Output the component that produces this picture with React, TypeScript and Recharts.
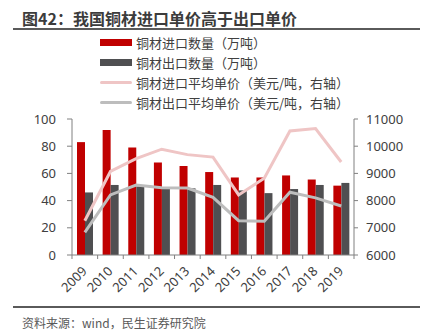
import { ComposedChart, Bar, Line, XAxis, YAxis } from 'recharts';

const years = ['2009', '2010', '2011', '2012', '2013', '2014', '2015', '2016', '2017', '2018', '2019'];
const importQty = [83, 92, 79, 68, 65.5, 61, 57, 57, 58.5, 55.5, 51];
const exportQty = [46, 51.5, 50.5, 49, 49, 51.5, 47.5, 45.5, 48.5, 51.5, 53];
const importPrice = [7260, 9070, 9540, 9890, 9690, 9600, 8210, 8820, 10560, 10650, 9420];
const exportPrice = [6830, 8210, 8570, 8470, 8460, 8120, 7260, 7240, 8310, 8100, 7800];
const leftTicks = [0, 20, 40, 60, 80, 100];
const rightTicks = [6000, 7000, 8000, 9000, 10000, 11000];

const data = years.map((y, i) => ({
  year: y,
  importQty: importQty[i],
  exportQty: exportQty[i],
  importPrice: importPrice[i],
  exportPrice: exportPrice[i],
}));

const SERIES = [
  { key: 'importQty',   label: '铜材进口数量（万吨）',             color: '#C00000', kind: 'bar' },
  { key: 'exportQty',   label: '铜材出口数量（万吨）',             color: '#4F4F51', kind: 'bar' },
  { key: 'importPrice', label: '铜材进口平均单价（美元/吨，右轴）', color: '#EFC5C5', kind: 'line' },
  { key: 'exportPrice', label: '铜材出口平均单价（美元/吨，右轴）', color: '#BDBDBD', kind: 'line' },
] as const;

const CJK = '"Noto Sans CJK SC", "Noto Sans", sans-serif';
const NUM = '"Noto Sans", sans-serif';
const AXIS = '#808080';
const TXT = '#404040';
const HALF_BAND = 12.82;

function YearTick(props: any) {
  const { x, y, payload, index } = props;
  const last = index === years.length - 1;
  return (
    <g>
      <line x1={x - HALF_BAND} x2={x - HALF_BAND} y1={y} y2={y + 4} stroke={AXIS} />
      {last && <line x1={x + HALF_BAND} x2={x + HALF_BAND} y1={y} y2={y + 4} stroke={AXIS} />}
      <text
        x={x + 3}
        y={y + 17}
        transform={`rotate(-45, ${x + 3}, ${y + 17})`}
        textAnchor="end"
        fontSize={13}
        fontFamily={NUM}
        fill={TXT}
      >
        {payload.value}
      </text>
    </g>
  );
}

export default function App() {
  return (
    <div style={{ position: 'absolute', left: 0, top: 0, width: 429, height: 336, background: '#fff', fontFamily: CJK }}>
      {/* 标题 */}
      <div style={{ position: 'absolute', left: 22, top: 8, fontSize: 16, fontWeight: 700, color: '#3c3c3c', lineHeight: '20px' }}>
        图42：我国铜材进口单价高于出口单价
      </div>
      <div style={{ position: 'absolute', left: 13, top: 28, width: 407, height: 2, background: '#5a5a5a' }} />

      {/* 图例 */}
      <div style={{ position: 'absolute', left: 100, top: 32 }}>
        {SERIES.map(s => (
          <div key={s.key} style={{ display: 'flex', alignItems: 'center', height: 20 }}>
            <span
              style={{
                display: 'inline-block',
                width: 32,
                height: s.kind === 'bar' ? 7 : 3,
                background: s.color,
                borderRadius: s.kind === 'bar' ? 0 : 2,
                marginRight: 4,
              }}
            />
            <span style={{ fontSize: 13, color: TXT }}>{s.label}</span>
          </div>
        ))}
      </div>

      <ComposedChart
        width={429}
        height={336}
        data={data}
        margin={{ top: 119, right: 0, bottom: 0, left: 0 }}
        barGap={0}
        style={{ position: 'absolute', left: 0, top: 0 }}
      >
        <XAxis
          dataKey="year"
          axisLine={{ stroke: AXIS }}
          tickLine={false}
          tickSize={0}
          tickMargin={0}
          interval={0}
          height={81}
          tick={<YearTick />}
        />
        <YAxis
          yAxisId="left"
          width={72}
          domain={[0, 100]}
          ticks={leftTicks}
          interval={0}
          axisLine={{ stroke: AXIS }}
          tickLine={{ stroke: AXIS }}
          tickSize={5}
          tickMargin={11}
          tick={{ fontSize: 13, fill: TXT, fontFamily: NUM }}
        />
        <YAxis
          yAxisId="right"
          orientation="right"
          width={75}
          domain={[6000, 11000]}
          ticks={rightTicks}
          interval={0}
          axisLine={{ stroke: AXIS }}
          tickLine={{ stroke: AXIS }}
          tickSize={4}
          tickMargin={8}
          tick={{ fontSize: 13, fill: TXT, fontFamily: NUM, textAnchor: 'start' }}
        />
        <Bar yAxisId="left" dataKey="importQty" fill="#C00000" barSize={8} isAnimationActive={false} />
        <Bar yAxisId="left" dataKey="exportQty" fill="#4F4F51" barSize={8} isAnimationActive={false} />
        <Line yAxisId="right" dataKey="importPrice" type="linear" stroke="#EFC5C5" strokeWidth={3} dot={false} isAnimationActive={false} />
        <Line yAxisId="right" dataKey="exportPrice" type="linear" stroke="#BDBDBD" strokeWidth={3} dot={false} isAnimationActive={false} />
      </ComposedChart>

      {/* 资料来源 */}
      <div style={{ position: 'absolute', left: 13, top: 306, width: 407, height: 1.5, background: '#5a5a5a' }} />
      <div style={{ position: 'absolute', left: 22, top: 314, fontSize: 12, color: '#595959', lineHeight: '18px' }}>
        资料来源：wind，民生证券研究院
      </div>
    </div>
  );
}
